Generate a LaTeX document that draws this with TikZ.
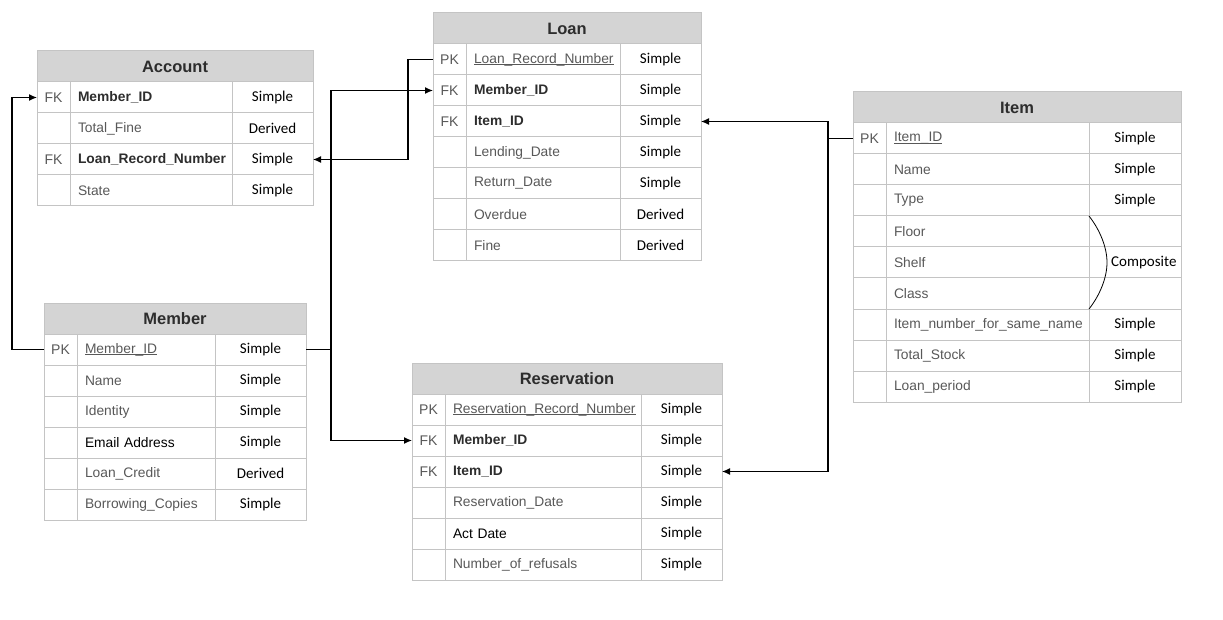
\documentclass[tikz,border=0pt]{standalone}
\usepackage{fontspec}
\setmainfont{Liberation Sans}
\newfontfamily\carlito{Carlito}
\usetikzlibrary{arrows.meta}

\definecolor{headgray}{RGB}{212,212,212}
\definecolor{gridgray}{RGB}{196,196,196}
\definecolor{fieldgray}{RGB}{88,88,88}
\definecolor{namedark}{RGB}{45,45,45}

% primary key underline, close to the baseline
\newcommand{\keyline}[1]{\setbox0\hbox{#1}\rlap{\rule[-2.2pt]{\wd0}{0.9pt}}\box0}

\tikzset{
	tabhead/.style={draw=gridgray, fill=headgray, line width=1pt, minimum height=31pt, inner sep=0pt, outer sep=0pt,
		font=\fontsize{16.5}{18}\selectfont\bfseries, text=namedark},
	keycell/.style={draw=gridgray, line width=1pt, minimum height=31pt, inner sep=0pt, outer sep=0pt,
		font=\fontsize{14}{16}\selectfont, text=fieldgray},
	fieldcell/.style={draw=gridgray, line width=1pt, minimum height=31pt, inner xsep=8pt, inner ysep=0pt, outer sep=0pt,
		align=left, font=\fontsize{13.8}{16}\selectfont, text=fieldgray},
	typecell/.style={draw=gridgray, line width=1pt, minimum height=31pt, inner sep=0pt, outer sep=0pt,
		font=\carlito\fontsize{15}{17}\selectfont, text=black},
	fklink/.style={line width=1.2pt, -{Latex[length=8pt,width=7pt]}}
}

% #1 name, #2/#3 top left, #4 title, #5-#7 column widths, #8 rows key/field/type
\newcommand{\ertable}[8]{
	\pgfmathsetmacro\tabw{#5+#6+#7}
	\pgfmathsetmacro\fieldw{#6-16}
	\node[tabhead, minimum width=\tabw pt, anchor=north west] (#1) at (#2,#3) {#4};
	\foreach \ky/\fd/\ty [count=\i] in {#8} {
		\node[keycell, minimum width=#5pt, anchor=north west] (#1-k\i) at (#2,{#3+31*\i}) {\ky};
		\node[fieldcell, text width=\fieldw pt, anchor=north west] (#1-f\i) at (#1-k\i.north east) {\fd};
		\node[typecell, minimum width=#7pt, anchor=north west] (#1-t\i) at (#1-f\i.north east) {\ty};
	}
}

\begin{document}
\begin{tikzpicture}[x=1pt,y=-1pt]
	\useasboundingbox (0,0) rectangle (1223,620);

	\ertable{acc}{37}{51}{Account}{33}{162}{81}{
		FK/{\bfseries\color{namedark}Member\_ID}/Simple,
		{}/Total\_Fine/Derived,
		FK/{\bfseries\color{namedark}Loan\_Record\_Number}/Simple,
		{}/State/Simple}
	\ertable{loan}{433}{13}{Loan}{33}{154}{81}{
		PK/{\keyline{Loan\_Record\_Number}}/Simple,
		FK/{\bfseries\color{namedark}Member\_ID}/Simple,
		FK/{\bfseries\color{namedark}Item\_ID}/Simple,
		{}/Lending\_Date/Simple,
		{}/Return\_Date/Simple,
		{}/Overdue/Derived,
		{}/Fine/Derived}
	\ertable{item}{853}{92}{Item}{33}{203}{92}{
		PK/{\keyline{Item\_ID}}/Simple,
		{}/Name/Simple,
		{}/Type/Simple,
		{}/Floor/{},
		{}/Shelf/{},
		{}/Class/{},
		{}/Item\_number\_for\_same\_name/Simple,
		{}/Total\_Stock/Simple,
		{}/Loan\_period/Simple}
	\ertable{mem}{44}{303}{Member}{33}{138}{91}{
		PK/{\keyline{Member\_ID}}/Simple,
		{}/Name/Simple,
		{}/Identity/Simple,
		{}/{\color{black}Email Address}/Simple,
		{}/Loan\_Credit/Derived,
		{}/Borrowing\_Copies/Simple}
	\ertable{res}{412}{363}{Reservation}{33}{196}{81}{
		PK/{\keyline{Reservation\_Record\_Number}}/Simple,
		FK/{\bfseries\color{namedark}Member\_ID}/Simple,
		FK/{\bfseries\color{namedark}Item\_ID}/Simple,
		{}/Reservation\_Date/Simple,
		{}/{\color{black}Act Date}/Simple,
		{}/Number\_of\_refusals/Simple}

	% composite attribute
	\draw[line width=0.8pt] (item-t4.north west) .. controls +(11,14) and +(0,-15) .. ([xshift=18pt]item-t5.west)
		.. controls +(0,15) and +(11,-14) .. (item-t6.south west);
	\node[font=\carlito\fontsize{15}{17}\selectfont, anchor=west, inner sep=0pt] (comp) at ([xshift=22pt]item-t5.west) {Composite};

	% foreign keys
	\draw[fklink] (mem-k1.west) -- ++(-32,0) |- (acc-k1.west);
	\draw[fklink] (loan-k1.west) -- ++(-25,0) |- (acc-t3.east);
	\draw[line width=1.2pt] (mem-t1.east) -- ++(25,0) coordinate (memjoin);
	\draw[fklink] (memjoin) |- (loan-k2.west);
	\draw[fklink] (memjoin) |- (res-k2.west);
	\draw[line width=1.2pt] (item-k1.west) -- ++(-25,0) coordinate (itemjoin);
	\draw[fklink] (itemjoin) |- (loan-t3.east);
	\draw[fklink] (itemjoin) |- (res-t3.east);
\end{tikzpicture}
\end{document}
